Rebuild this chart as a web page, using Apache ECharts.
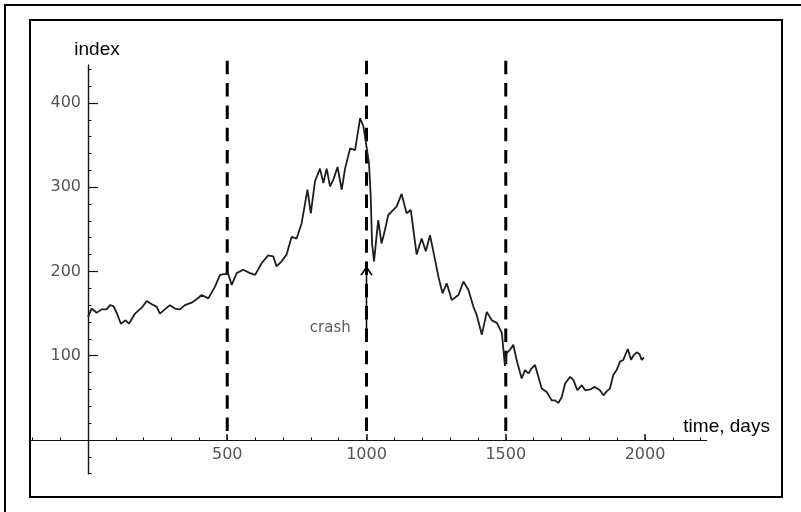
<!DOCTYPE html>
<html>
<head>
<meta charset="utf-8">
<script src="https://cdn.jsdelivr.net/npm/echarts@6/dist/echarts.min.js"></script>
<style>
    html, body { margin: 0; padding: 0; background: #fff; }
    #chart { width: 801px; height: 512px; }
</style>
</head>
<body>
<div id="chart"></div>
<script>
// index value (day -> index)
var days = [0, 13, 31, 49, 67, 79, 91, 103, 118, 135, 147, 169, 193, 211, 229, 247, 258, 276, 294, 312,
    330, 348, 372, 390, 408, 432, 456, 474, 492, 503, 516, 534, 557, 582, 600, 624, 647, 665, 677, 695,
    713, 731, 749, 767, 788, 800, 815, 833, 845, 857, 869, 881, 896, 911, 923, 941, 959, 977, 989, 1001,
    1009, 1015, 1020, 1027, 1042, 1054, 1066, 1078, 1090, 1108, 1126, 1144, 1159, 1180, 1198, 1213, 1228, 1246, 1258, 1273,
    1288, 1306, 1330, 1348, 1366, 1384, 1396, 1414, 1432, 1450, 1468, 1486, 1497, 1503, 1515, 1527, 1539, 1557, 1569, 1581,
    1593, 1605, 1617, 1629, 1647, 1665, 1677, 1689, 1701, 1713, 1731, 1743, 1757, 1773, 1785, 1803, 1820, 1838, 1851, 1863,
    1874, 1886, 1898, 1910, 1922, 1938, 1950, 1958, 1970, 1980, 1988, 1996];
var indexValues = [146, 156, 151, 155, 155, 160, 159, 151, 138, 142, 138, 150, 157, 165, 161, 158, 150, 155, 160, 156,
    155, 160, 163, 167, 172, 168, 182, 196, 197, 198, 184, 198, 202, 198, 196, 210, 219, 218, 206, 212,
    220, 241, 239, 257, 297, 269, 307, 322, 305, 322, 301, 309, 324, 297, 322, 346, 344, 382, 372, 346,
    328, 290, 233, 212, 261, 233, 249, 267, 271, 277, 292, 269, 273, 220, 239, 224, 243, 214, 194, 174,
    186, 166, 172, 188, 178, 158, 148, 125, 152, 142, 139, 127, 88, 103, 107, 113, 95, 73, 83, 79,
    85, 89, 75, 61, 57, 47, 47, 44, 51, 67, 75, 71, 59, 65, 59, 60, 63, 59, 53, 58,
    61, 77, 83, 93, 95, 108, 95, 100, 104, 102, 95, 98];

var xLabels = [500, 1000, 1500, 2000];
var yLabels = [100, 200, 300, 400];
var markDays = [500, 1000, 1500];
var dashTop = 450;
var crashDay = 1000;
var crashArrow = [130, 205];
var crashText = [870, 133];

var xRange = [-210, 2220];
var yRange = [-40, 445];

var xMinor = [];
for (var i = -200; i <= 2200; i += 100) xMinor.push(i);
var yMinor = [];
for (var j = -40; j <= 440; j += 20) yMinor.push(j);

var gridLeft = 29.5, gridRight = 94.7, gridTop = 65, gridBottom = 38.3;
var plotW = 801 - gridLeft - gridRight;
var plotH = 512 - gridTop - gridBottom;
// extra axes are moved onto the zero lines: labels from the near side, long ticks from the far side
var bottomToZero = -plotH * (0 - yRange[0]) / (yRange[1] - yRange[0]);
var leftToZero = -plotW * (0 - xRange[0]) / (xRange[1] - xRange[0]);
var topToZero = -plotH * yRange[1] / (yRange[1] - yRange[0]);
var rightToZero = -plotW * xRange[1] / (xRange[1] - xRange[0]);

var chart = echarts.init(document.getElementById('chart'));

var priceData = days.map(function (d, k) { return [d, indexValues[k]]; });

var series = [{
    name: 'index',
    type: 'line',
    data: priceData,
    symbol: 'none',
    lineStyle: { color: '#1e1e1e', width: 1.8 },
    z: 3
}];
markDays.forEach(function (d) {
    series.push({
        type: 'line',
        data: [[d, dashTop], [d, 0]],
        symbol: 'none',
        clip: false,
        lineStyle: { color: '#000', width: 3, type: [13.5, 8.8] },
        z: 2
    });
});
series.push({
    type: 'line',
    data: [
        { value: [crashDay, crashArrow[0]], symbol: 'none' },
        { value: [crashDay, crashArrow[1]], symbol: 'path://M0,10 L5,0 L10,10', symbolSize: [11, 8], symbolOffset: [0, 4] }
    ],
    showSymbol: true,
    lineStyle: { color: '#000', width: 1.5 },
    itemStyle: { color: 'none', borderColor: '#000', borderWidth: 1.5 },
    z: 4
});
series.push({
    type: 'scatter',
    data: [crashText],
    symbolSize: 0,
    label: {
        show: true,
        position: 'inside',
        formatter: 'crash',
        color: '#333',
        fontSize: 15,
        fontFamily: 'DejaVu Sans'
    }
});

var labelStyle = {
    color: '#555', fontSize: 16, fontFamily: 'DejaVu Sans',
    formatter: function (v) { return String(v); }
};
var axisLineStyle = { color: '#111', width: 1.2 };

chart.setOption({
    animation: false,
    backgroundColor: '#fff',
    grid: {
        left: gridLeft,
        right: gridRight,
        top: gridTop,
        bottom: gridBottom,
        containLabel: false,
        outerBoundsMode: 'none'
    },
    xAxis: [{
        type: 'value',
        min: xRange[0],
        max: xRange[1],
        position: 'bottom',
        name: 'time, days',
        nameLocation: 'end',
        nameGap: -23,
        nameTextStyle: {
            color: '#000', fontSize: 19, fontFamily: 'Liberation Sans',
            align: 'left', verticalAlign: 'bottom', padding: [0, 0, 4, 0]
        },
        axisLine: { onZero: true, onZeroAxisIndex: 0, lineStyle: axisLineStyle },
        axisTick: { show: true, inside: true, length: 2.5, customValues: xMinor, lineStyle: { color: '#111' } },
        axisLabel: { show: false },
        splitLine: { show: false }
    }, {
        type: 'value',
        min: xRange[0],
        max: xRange[1],
        position: 'top',
        offset: topToZero,
        axisLine: { show: true, onZero: false, lineStyle: axisLineStyle },
        axisTick: { show: true, inside: false, length: 6, customValues: xLabels, lineStyle: { color: '#111', width: 1.5 } },
        axisLabel: { show: false },
        splitLine: { show: false }
    }, {
        type: 'value',
        min: xRange[0],
        max: xRange[1],
        position: 'bottom',
        offset: bottomToZero,
        axisLine: { show: false, onZero: false },
        axisTick: { show: false },
        axisLabel: Object.assign({ customValues: xLabels, margin: 7 }, labelStyle),
        splitLine: { show: false }
    }],
    yAxis: [{
        type: 'value',
        min: yRange[0],
        max: yRange[1],
        position: 'left',
        name: 'index',
        nameLocation: 'end',
        nameGap: 6,
        nameTextStyle: {
            color: '#000', fontSize: 19, fontFamily: 'Liberation Sans',
            padding: [0, 0, 0, 18]
        },
        axisLine: { onZero: true, onZeroAxisIndex: 0, lineStyle: axisLineStyle },
        axisTick: { show: true, inside: true, length: 3.5, customValues: yMinor, lineStyle: { color: '#111' } },
        axisLabel: { show: false },
        splitLine: { show: false }
    }, {
        type: 'value',
        min: yRange[0],
        max: yRange[1],
        position: 'right',
        offset: rightToZero,
        axisLine: { show: true, onZero: false, lineStyle: axisLineStyle },
        axisTick: { show: true, inside: false, length: 10, customValues: yLabels, lineStyle: { color: '#111', width: 1.2 } },
        axisLabel: { show: false },
        splitLine: { show: false }
    }, {
        type: 'value',
        min: yRange[0],
        max: yRange[1],
        position: 'left',
        offset: leftToZero,
        axisLine: { show: false, onZero: false },
        axisTick: { show: false },
        axisLabel: Object.assign({ customValues: yLabels, margin: 7 }, labelStyle),
        splitLine: { show: false }
    }],
    graphic: [{
        type: 'rect',
        shape: { x: 5, y: 5, width: 810, height: 520 },
        style: { fill: 'none', stroke: '#000', lineWidth: 2 },
        silent: true
    }, {
        type: 'rect',
        shape: { x: 30, y: 20, width: 752, height: 477 },
        style: { fill: 'none', stroke: '#000', lineWidth: 2 },
        silent: true
    }],
    series: series
});
</script>
</body>
</html>
